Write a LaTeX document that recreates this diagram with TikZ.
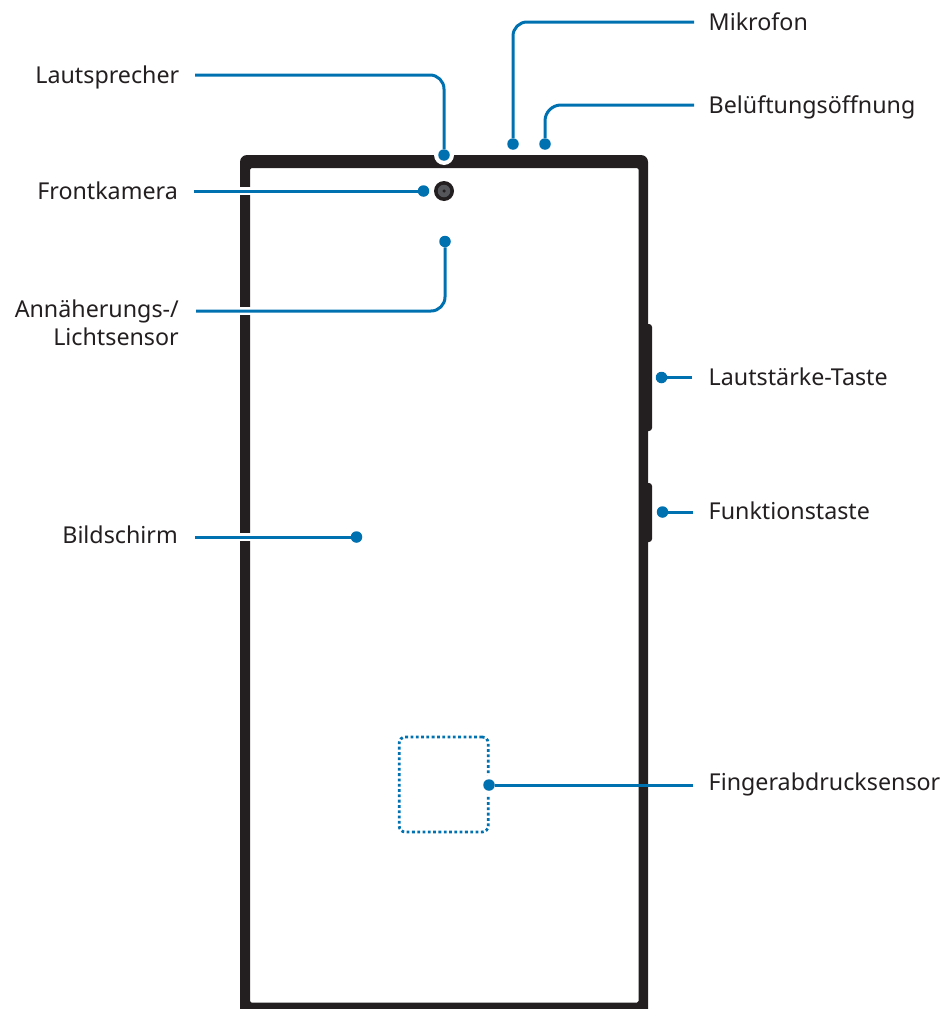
\documentclass[tikz,border=0pt]{standalone}
\usepackage{fontspec}
\setmainfont{Noto Sans}
\definecolor{lead}{HTML}{0071B0}
\definecolor{body}{HTML}{231F20}
\definecolor{lens}{HTML}{55565A}
\tikzset{
  x=1pt,y=-1pt,
  leader/.style={draw=lead,line width=3pt},
  halo/.style={draw=white,line width=7.5pt},
  tip/.style={circle,fill=lead,inner sep=0pt,minimum size=11.5pt},
  lbl/.style={inner sep=0pt,text=body,font=\fontsize{23.25}{28}\selectfont,anchor=base west},
  lblr/.style={lbl,anchor=base east,align=right},
}
\begin{document}
\begin{tikzpicture}
\useasboundingbox (0,0) rectangle (943,1009);
% phone body
\begin{scope}
\clip (0,0) rectangle (943,1009);
\fill[body,rounded corners=3pt] (640,324) rectangle (652,431);
\fill[body,rounded corners=3pt] (640,483) rectangle (652,542);
\fill[body,even odd rule]
  [rounded corners=7pt] (240,1030) -- (240,155) -- (648,155) -- (648,1030) -- cycle
  [rounded corners=1.5pt] (250,1002.5) -- (250,168) -- (638.5,168) -- (638.5,1002.5) -- cycle;
\end{scope}
% camera
\node[circle,fill=body,minimum size=20pt,inner sep=0pt] (cam) at (444,191) {};
\node[circle,fill=lens,minimum size=12.5pt,inner sep=0pt] (lens) at (444,191) {};
\node[circle,fill=body,minimum size=3.5pt,inner sep=0pt] (pupil) at (444,191) {};
% fingerprint area
\node[draw=lead,line width=2.8pt,dash pattern=on 2.8pt off 2.5pt,rounded corners=6pt,minimum width=89pt,minimum height=95pt,inner sep=0pt] (fp) at (443.7,784.5) {};
% anchors
\coordinate (aL) at (195,75);
\coordinate (aM) at (694,22);
\coordinate (aB) at (694,105);
\coordinate (aF) at (194,191);
\coordinate (aS) at (196,311);
\coordinate (aD) at (195,537);
\coordinate (aV) at (692,377.5);
\coordinate (aT) at (693,512);
\coordinate (aR) at (693,785);
% tips
\fill[white] (434,155) arc[start angle=180,end angle=360,radius=10pt] -- cycle;
\fill[white] (489,785) circle[radius=10pt];
\node[tip] (tL) at (444,155) {};
\node[tip] (tM) at (513,144) {};
\node[tip] (tB) at (545,144) {};
\node[tip] (tF) at (423.5,191) {};
\node[tip] (tS) at (445,241.5) {};
\node[tip] (tD) at (356.5,537) {};
\node[tip] (tV) at (661.5,377.5) {};
\node[tip] (tT) at (662.5,512) {};
\node[tip] (tR) at (489,785) {};
% white gaps where leaders cross the frame
\draw[halo] (aF) -- (tF);
\draw[halo] (aS) -- (300,311);
\draw[halo] (aD) -- (300,537);
% leaders
\draw[leader,rounded corners=14pt] (aL) -| (tL);
\draw[leader,rounded corners=14pt] (aM) -| (tM);
\draw[leader,rounded corners=16pt] (aB) -| (tB);
\draw[leader] (aF) -- (tF);
\draw[leader,rounded corners=14pt] (aS) -| (tS);
\draw[leader] (aD) -- (tD);
\draw[leader] (aV) -- (tV);
\draw[leader] (aT) -- (tT);
\draw[leader] (aR) -- (tR);
% labels
\node[lblr] (nL) at (179.5,83) {Lautsprecher};
\node[lblr] (nF) at (178,199) {Frontkamera};
\node[lblr] (nS) at (179,345) {Annäherungs-/\\Lichtsensor};
\node[lblr] (nD) at (178,543) {Bildschirm};
\node[lbl] (nM) at (708.5,30) {Mikrofon};
\node[lbl] (nB) at (708.5,113) {Belüftungsöffnung};
\node[lbl] (nV) at (708.5,385) {Lautstärke-Taste};
\node[lbl] (nT) at (708.5,519) {Funktionstaste};
\node[lbl] (nR) at (708.5,790) {Fingerabdrucksensor};
\end{tikzpicture}
\end{document}
